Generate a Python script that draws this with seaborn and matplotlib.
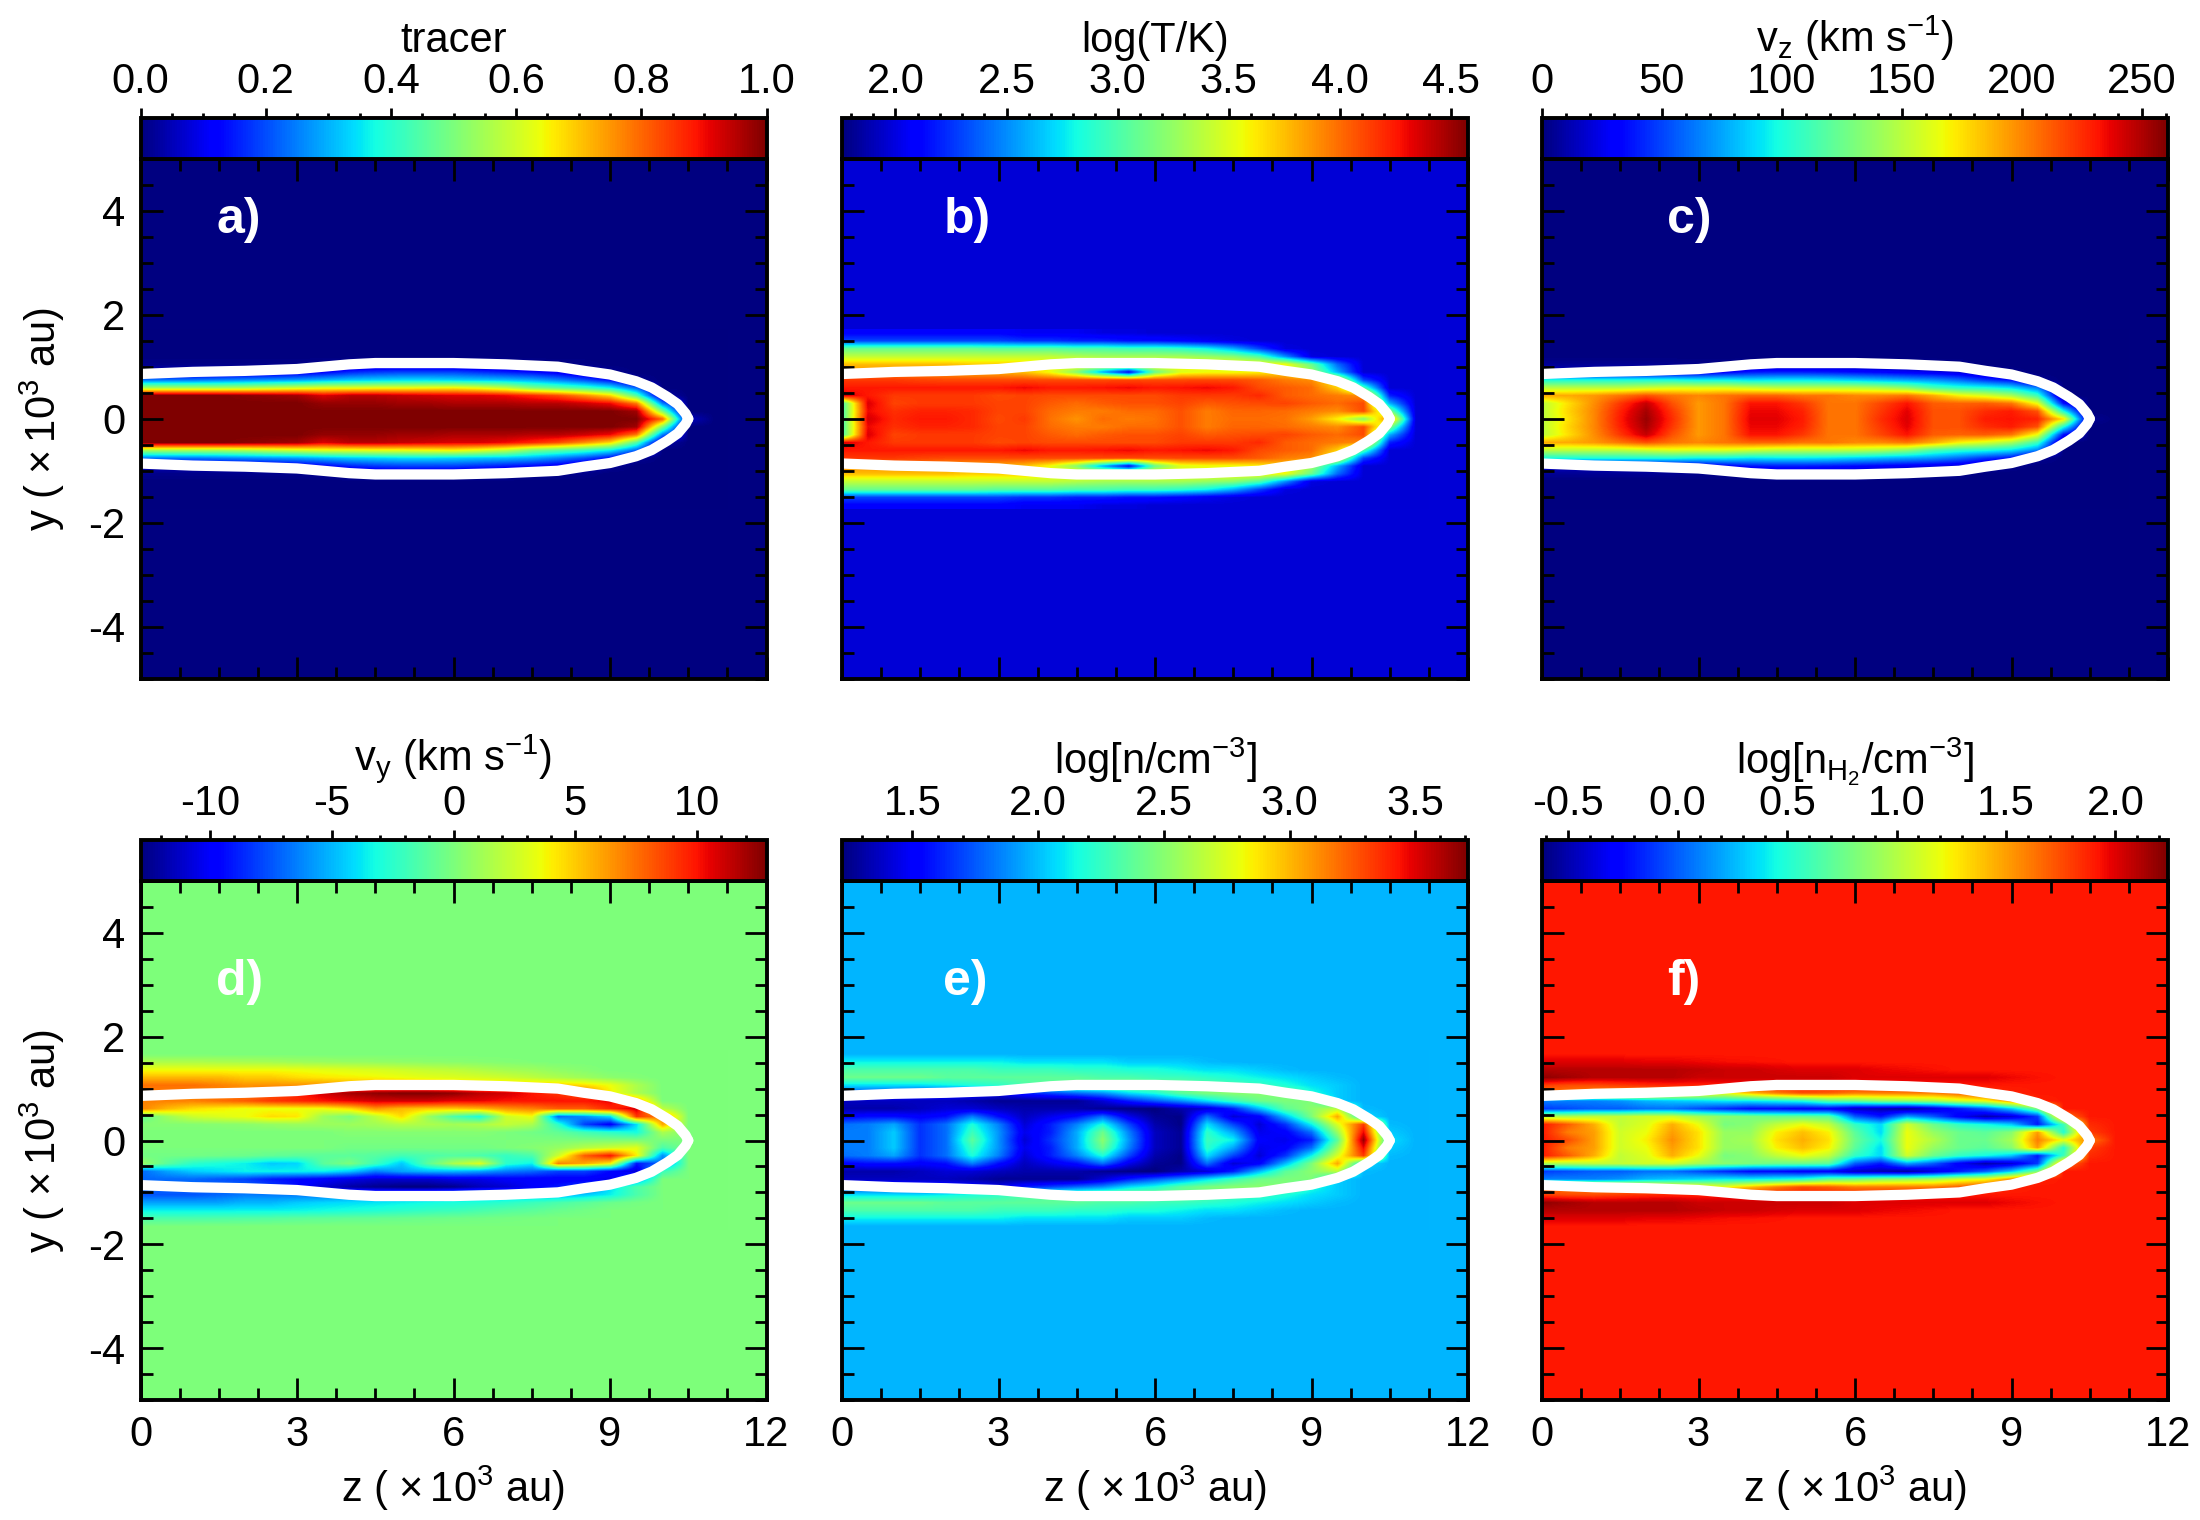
import numpy as np
import seaborn as sns
import matplotlib.pyplot as plt
from matplotlib.ticker import MultipleLocator, ScalarFormatter

# grid of the stored values (kau), only y >= 0, the lower half is mirrored
z_step = 0.5
y_step = 0.15

tracer = [
    [1,1,1,1,1,1,1,1,1,1,1,1,1,1,1,1,1,1,1,1,.8,.06,0],
    [1,1,1,1,1,1,1,1,1,1,1,1,1,1,1,1,1,1,1,.97,.5,0,0],
    [1,1,1,1,1,1,1,.98,.98,.98,.97,.97,.96,.96,.96,.95,.95,.93,.9,.78,.25,0,0],
    [1,1,1,1,.99,.98,.97,.92,.95,.95,.94,.93,.92,.92,.9,.87,.83,.76,.68,.45,.04,0,0],
    [.55,.55,.55,.55,.56,.58,.6,.62,.62,.63,.63,.64,.65,.62,.58,.5,.46,.42,.36,.22,0,0,0],
    [.24,.24,.24,.25,.26,.27,.28,.3,.32,.33,.34,.34,.33,.32,.31,.29,.25,.2,.13,.02,0,0,0],
    [.06,.05,.05,.05,.06,.07,.09,.12,.16,.18,.19,.19,.19,.17,.15,.13,.1,.05,.02,0,0,0,0],
    [.01,.01,.01,.01,.01,.01,.01,.02,.03,.04,.04,.04,.04,.03,.03,.02,.01,.01,0,0,0,0,0],
    [0]*23,
    [0]*23,
    [0]*23,
    [0]*23,
]

log_t = [
    [2.95,4.37,4.2,4.25,4.25,4.2,4.1,4.15,3.98,3.88,4.0,3.95,3.98,4.08,3.95,4.0,4.0,3.98,3.85,3.6,3.2,4.0,1.97],
    [2.95,4.3,4.18,4.22,4.22,4.2,4.12,4.12,4.0,3.95,3.95,4.0,4.0,4.08,3.95,4.02,4.02,4.0,3.95,3.9,4.1,3.2,1.97],
    [2.95,4.35,4.12,4.15,4.15,4.15,4.12,4.12,4.05,4.0,4.05,4.08,4.08,4.12,4.05,4.08,4.1,4.12,4.05,4.0,4.1,2.6,1.97],
    [4.35,4.25,4.15,4.15,4.15,4.15,4.1,4.12,4.1,4.1,4.1,4.1,4.1,4.15,4.15,4.15,4.2,4.05,4.0,3.95,3.9,2.2,1.97],
    [4.25,4.25,4.25,4.25,4.25,4.25,4.25,4.3,4.25,4.25,4.27,4.3,4.25,4.27,4.3,4.25,4.1,4.05,4.0,3.7,3.0,1.97,1.97],
    [4.15,4.15,4.15,4.12,4.1,4.1,4.1,4.1,4.1,4.1,4.1,4.1,4.1,4.1,4.1,4.1,4.05,3.95,3.9,3.55,2.3,1.97,1.97],
    [3.9,3.9,3.9,3.9,3.85,3.8,3.8,3.75,3.55,3.2,2.6,2.1,3.1,3.5,3.55,3.55,3.6,3.7,3.3,2.6,1.97,1.97,1.97],
    [3.75,3.75,3.75,3.75,3.75,3.7,3.7,3.7,3.6,3.6,3.6,3.6,3.6,3.6,3.6,3.6,3.6,3.55,3.1,2.4,1.97,1.97,1.97],
    [3.4,3.4,3.4,3.4,3.4,3.4,3.4,3.4,3.4,3.35,3.3,3.3,3.3,3.3,3.25,3.2,3.0,2.5,2.0,1.97,1.97,1.97,1.97],
    [3.1,3.1,3.1,3.1,3.1,3.1,3.05,3.05,3.05,3.0,3.0,2.95,2.95,2.9,2.8,2.6,2.3,2.0,1.97,1.97,1.97,1.97,1.97],
    [2.3,2.3,2.3,2.3,2.3,2.3,2.3,2.25,2.25,2.2,2.2,2.15,2.15,2.1,2.05,2.0,1.97,1.97,1.97,1.97,1.97,1.97,1.97],
    [2.1,2.1,2.1,2.1,2.1,2.1,2.1,2.05,2.05,2.05,2.0,2.0,1.97,1.97,1.97,1.97,1.97,1.97,1.97,1.97,1.97,1.97,1.97],
]

v_z = [
    [150,175,200,230,255,225,195,205,238,238,230,205,205,225,240,215,215,230,232,228,175,5,0],
    [150,178,200,228,252,222,195,205,236,236,228,205,205,222,238,215,215,225,230,215,100,0,0],
    [150,175,198,222,245,215,195,205,232,232,222,205,205,218,232,212,210,212,205,165,35,0,0],
    [190,190,195,205,215,205,200,205,210,210,205,205,200,200,205,190,170,160,145,110,0,0,0],
    [150,150,150,150,155,160,160,160,155,150,150,150,150,145,135,115,105,100,90,65,0,0,0],
    [100,100,100,100,100,100,95,95,90,92,92,90,85,80,75,70,60,45,35,5,0,0,0],
    [20,15,15,15,15,18,22,30,38,40,40,38,35,32,28,25,20,10,3,0,0,0,0],
    [5,5,5,5,5,4,3,3,5,8,8,8,8,6,5,4,3,0,0,0,0,0,0],
    [0]*23,
    [0]*23,
    [0]*23,
    [0]*23,
]

v_y = [
    [0]*23,
    [0,0,0,0,0,0,0,0,.3,.3,.3,.3,.3,.3,0,-.3,-.8,-1.8,-2.5,-3.2,1.5,0,0],
    [.3,.3,.3,.4,.5,.8,1,1,1,1.2,1.8,1.5,1.2,1.5,2.2,1.5,-2.5,-8,-10,-4,6,0,0],
    [-1,1,2.5,3,3.5,4.5,4.2,1,0,2,4.5,1,-1.5,-3,2.5,3.5,-7,-6,-4,9,7,0,0],
    [7,5.5,4.5,4,3.5,3.5,3.5,3.5,4.5,6.5,5.5,5,5,5.5,6.5,7,8,8,9.5,11,2,0,0],
    [7,7,7,7.5,8,9,9.5,10,10.5,11,11,11,10.5,10.5,10,10,10,10,10.5,6,0,0,0],
    [7,7,7,7,7,8,9.5,11,12,12.5,12.8,12.8,12.5,11.5,11,10,9,8,4,1.5,0,0,0],
    [7.5,7.5,7.5,7,6.5,6.5,6.5,6.5,6,6,6,6,5,5,5,5,5,4.5,3.5,1.5,0,0,0],
    [5.5,5.5,5.5,5.5,5,5,4.5,4.2,4,3.8,3.5,3.2,3,2.8,2.5,2,1.5,1,.5,.2,0,0,0],
    [3.5,3.5,3.5,3.5,3.5,3.5,3.4,3.2,3,2.8,2.5,2.2,2,1.6,1.2,1,.6,.3,0,0,0,0,0],
    [1.5,1.5,1.5,1.4,1.3,1.2,1,.9,.8,.7,.6,.5,.4,.3,.2,.1,0,0,0,0,0,0,0],
    [0]*23,
]

log_n = [
    [1.84,1.84,2.03,1.65,1.80,2.37,1.90,1.41,1.65,1.95,2.51,1.90,1.36,1.27,2.27,2.13,1.51,1.46,1.60,2.37,3.66,2.08,1.97],
    [1.84,1.84,2.03,1.65,1.80,2.27,1.90,1.46,1.60,1.95,2.42,1.85,1.36,1.27,2.23,1.94,1.46,1.51,1.80,2.56,3.47,2.03,1.97],
    [1.80,1.84,1.94,1.65,1.80,2.18,1.85,1.41,1.60,1.85,2.18,1.70,1.32,1.24,2.08,1.70,1.41,1.65,2.13,2.75,3.33,1.99,1.97],
    [1.51,1.56,1.56,1.51,1.56,1.84,1.56,1.36,1.46,1.56,1.80,1.46,1.27,1.24,1.80,1.41,1.51,1.99,2.47,3.04,2.08,1.97,1.97],
    [1.32,1.32,1.32,1.36,1.41,1.41,1.36,1.32,1.32,1.32,1.27,1.24,1.22,1.32,1.41,1.60,1.99,2.37,2.51,2.66,1.99,1.97,1.97],
    [1.36,1.36,1.36,1.36,1.36,1.32,1.27,1.27,1.27,1.27,1.41,1.60,1.75,1.89,2.08,2.27,2.42,2.47,2.47,2.03,1.97,1.97,1.97],
    [1.70,1.70,1.70,1.65,1.60,1.56,1.46,1.60,1.70,1.80,1.89,2.08,2.18,2.37,2.47,2.51,2.51,2.47,2.18,2.03,1.97,1.97,1.97],
    [2.08,2.08,2.08,2.08,2.13,2.18,2.23,2.32,2.37,2.42,2.47,2.47,2.47,2.42,2.37,2.32,2.27,2.18,2.08,2.03,1.97,1.97,1.97],
    [2.42,2.42,2.42,2.42,2.37,2.37,2.37,2.37,2.37,2.37,2.32,2.32,2.27,2.27,2.23,2.18,2.13,2.08,2.03,1.99,1.97,1.97,1.97],
    [2.32,2.32,2.32,2.32,2.32,2.32,2.27,2.27,2.27,2.23,2.23,2.18,2.18,2.13,2.08,2.08,2.03,1.99,1.97,1.97,1.97,1.97,1.97],
    [2.13,2.13,2.13,2.13,2.13,2.13,2.13,2.08,2.08,2.08,2.08,2.03,2.03,2.03,1.99,1.97,1.97,1.97,1.97,1.97,1.97,1.97,1.97],
    [1.97]*23,
]

log_nh2 = [
    [1.91,1.75,1.5,1.1,1.25,1.55,1.3,.9,.95,1.3,1.45,1.3,.75,.45,1.2,1.0,.75,.75,.95,1.6,1.2,1.6,1.91],
    [1.91,1.6,1.5,1.1,1.2,1.5,1.3,.9,.9,1.25,1.4,1.25,.7,.35,1.2,.9,.75,.7,.85,1.5,.5,1.8,1.91],
    [1.91,1.7,1.45,1.05,1.15,1.45,1.2,.8,.85,1.05,1.2,1.05,.55,.35,1.1,.75,.55,.45,.3,-.2,.6,1.85,1.91],
    [1.0,1.0,1.05,1.05,1.1,1.1,.95,.85,.8,.75,.75,.7,0,-.2,.2,0,-.3,-.5,-.4,-.1,1.6,1.91,1.91],
    [-.1,-.05,0,0,.05,.05,-.05,-.15,-.25,-.25,-.3,-.3,-.45,-.5,-.55,-.4,-.2,0,.3,.8,1.91,1.91,1.91],
    [.1,.1,.1,.15,.25,.3,.35,.4,.4,.45,.5,.7,.75,.85,.9,.95,1.1,1.2,1.55,1.88,1.91,1.91,1.91],
    [1.6,1.6,1.55,1.5,1.5,1.4,1.3,1.2,1.4,1.6,1.75,1.7,1.6,1.6,1.6,1.6,1.7,1.8,1.88,1.91,1.91,1.91,1.91],
    [1.8,1.75,1.75,1.8,1.85,1.88,1.88,1.91,1.91,1.91,1.91,1.91,1.91,1.91,1.91,1.91,1.91,1.91,1.91,1.91,1.91,1.91,1.91],
    [2.2,2.15,2.1,2.1,2.1,2.1,2.05,2.05,2.05,2.05,2.05,2.05,2.0,2.0,2.0,2.0,2.0,2.0,1.96,1.93,1.91,1.91,1.91],
    [2.1,2.1,2.1,2.1,2.1,2.1,2.08,2.05,2.05,2.02,2.0,2.0,2.0,1.97,1.95,1.93,1.91,1.91,1.91,1.91,1.91,1.91,1.91],
    [2.0,2.0,2.0,2.0,1.98,1.98,1.96,1.94,1.93,1.92,1.91,1.91,1.91,1.91,1.91,1.91,1.91,1.91,1.91,1.91,1.91,1.91,1.91],
    [1.91]*23,
]

# white contour, upper side
contour_z = [0, 1, 2, 3, 3.5, 4, 4.5, 5, 6, 7, 8, 8.5, 9, 9.5, 9.8, 10.1, 10.3, 10.45, 10.5]
contour_y = [.86, .9, .92, .955, 1.0, 1.045, 1.07, 1.07, 1.07, 1.045, 1.0, .92, .85, .72, .6, .42, .28, .1, 0]

panel_names = ["a)", "b)", "c)", "d)", "e)", "f)"]
panel_z = [1.45, 1.94, 2.4, 1.45, 1.94, 2.4]
panel_y = [3.82, 3.82, 3.82, 3.05, 3.05, 3.05]
labels = ["tracer", "log(T/K)", "v$_z$ (km s$^{-1}$)",
          "v$_y$ (km s$^{-1}$)", "log[n/cm$^{-3}$]", r"log[n$_{\mathrm{H_2}}$/cm$^{-3}$]"]
data = [tracer, log_t, v_z, v_y, log_n, log_nh2]
limits = [(0, 1), (1.76, 4.576), (0, 261), (-12.85, 12.85), (1.22, 3.71), (-0.62, 2.24)]
cbar_major = [0.2, 0.5, 50, 5, 0.5, 0.5]
cbar_minor = [0.05, 0.1, 10, 1, 0.1, 0.1]
cbar_fmt = ["%.1f", "%.1f", "%d", "%d", "%.1f", "%.1f"]

sns.set_style("ticks")
plt.rcParams["font.family"] = ["Liberation Sans", "DejaVu Sans"]
plt.rcParams["mathtext.fontset"] = "custom"
plt.rcParams["mathtext.rm"] = "Liberation Sans"
plt.rcParams["mathtext.default"] = "regular"
plt.rcParams["axes.unicode_minus"] = False
plt.rcParams["text.color"] = "black"
plt.rcParams["axes.labelcolor"] = "black"
plt.rcParams["axes.edgecolor"] = "black"
plt.rcParams["xtick.color"] = "black"
plt.rcParams["ytick.color"] = "black"

W, H = 2200, 1520
fig = plt.figure(figsize=(W / 100, H / 100), dpi=100)
lefts = [140.5, 842, 1542]
rows = [(118, 158.5, 679), (840, 881, 1400)]
width = 626
lw = 2.8
font = 30

for i in range(6):
    col, row = i % 3, i // 3
    cb_top, top, bottom = rows[row]
    ax = fig.add_axes([lefts[col] / W, 1 - bottom / H, width / W, (bottom - top) / H])
    cax = fig.add_axes([lefts[col] / W, 1 - top / H, width / W, (top - cb_top) / H])

    upper = np.array(data[i], dtype=float)
    lower = -upper[::-1] if i == 3 else upper[::-1]
    values = np.vstack([lower, upper[1:]])
    vmin, vmax = limits[i]

    sns.heatmap(values, ax=ax, cmap="jet", vmin=vmin, vmax=vmax,
                xticklabels=False, yticklabels=False, cbar_ax=cax,
                cbar_kws={"orientation": "horizontal"})
    mesh = ax.collections[0]
    mesh.set_visible(False)

    # same cells, smoothed on screen and placed in kau
    z_end = z_step * (values.shape[1] - 0.5)
    y_end = y_step * (len(upper) - 0.5)
    ax.imshow(values, cmap=mesh.cmap, norm=mesh.norm, origin="lower", aspect="auto",
              interpolation="bilinear", extent=(-z_step / 2, z_end, -y_end, y_end))
    ax.set_facecolor(mesh.cmap(mesh.norm(values[0, -1])))

    for sign in (1, -1):
        ax.plot(contour_z, sign * np.array(contour_y), color="white", lw=7.4,
                solid_capstyle="round", solid_joinstyle="round", zorder=3)

    ax.set_xlim(0, 12)
    ax.set_ylim(-5, 5)
    ax.xaxis.set_major_locator(MultipleLocator(3))
    ax.xaxis.set_minor_locator(MultipleLocator(0.75))
    ax.yaxis.set_major_locator(MultipleLocator(2))
    ax.yaxis.set_minor_locator(MultipleLocator(0.5))
    ax.xaxis.set_major_formatter(ScalarFormatter())
    ax.yaxis.set_major_formatter(ScalarFormatter())
    ax.tick_params(which="major", direction="in", top=True, right=True, bottom=True, left=True,
                   length=16, width=2, labelsize=font, pad=11,
                   labelbottom=row == 1, labelleft=col == 0)
    ax.tick_params(which="minor", direction="in", top=True, right=True, bottom=True, left=True,
                   length=8.5, width=2)
    for label in ax.get_yticklabels():
        label.set_rotation(0)
    if row == 1:
        ax.set_xlabel(r"z ( $\times\,$10$^3$ au)", fontsize=font, labelpad=6)
    if col == 0:
        ax.set_ylabel(r"y ( $\times\,$10$^3$ au)", fontsize=font, labelpad=15)
    for s in ax.spines.values():
        s.set_visible(True)
        s.set_linewidth(lw)
        s.set_zorder(5)
    ax.text(panel_z[i], panel_y[i], panel_names[i], color="white", fontsize=36,
            fontweight="bold", va="center", ha="left", zorder=6)

    cb = mesh.colorbar
    cb.outline.set_linewidth(lw)
    cb.outline.set_edgecolor("black")
    cax.xaxis.set_major_locator(MultipleLocator(cbar_major[i]))
    cax.xaxis.set_minor_locator(MultipleLocator(cbar_minor[i]))
    cax.xaxis.set_major_formatter(lambda v, p, f=cbar_fmt[i]: f % round(v, 3))
    cax.xaxis.set_ticks_position("top")
    cax.xaxis.set_label_position("top")
    cax.tick_params(which="major", direction="out", length=7.5, width=2, labelsize=font, pad=4)
    cax.tick_params(which="minor", direction="out", length=3.8, width=2)
    cax.set_xlabel(labels[i], fontsize=font, labelpad=10 if i == 3 else 7)
    cax.yaxis.set_visible(False)

fig.savefig("out.png", dpi=100)
